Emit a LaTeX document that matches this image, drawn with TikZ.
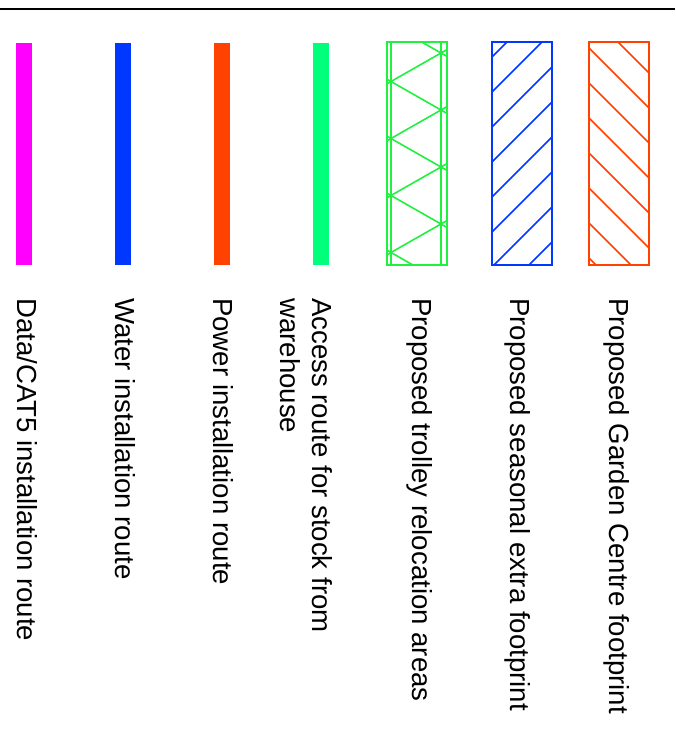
\documentclass[tikz,border=0pt]{standalone}
\usepackage{fontspec}
\setmainfont{Liberation Sans}
\definecolor{cat}{HTML}{FF00FF}
\definecolor{water}{HTML}{0038FF}
\definecolor{power}{HTML}{FF4200}
\definecolor{access}{HTML}{00FF7A}
\definecolor{trolley}{HTML}{22F040}
\begin{document}
\begin{tikzpicture}[x=1pt,y=-1pt,bar/.style={fill=#1,inner sep=0,minimum
    width=16pt,minimum height=222pt},hatchbox/.style={draw=#1,line width=1.6pt,
    inner sep=0,minimum width=60pt,minimum height=223pt},
  hatch/.style={draw=#1,line width=1.6pt},lbl/.style={rotate=-90,anchor=base
    west,inner sep=0,align=left,font=\fontsize{27.6}{32}\selectfont}]
  \useasboundingbox (0,0) rectangle (675,731);
  \coordinate (rule west) at (0,9);
  \coordinate (rule east) at (675,9);
  \draw[line width=1.3pt] (rule west) -- (rule east);
  % swatches
  \node(data)[bar=cat] at (24,154){};
  \node(water)[bar=water] at (123,154){};
  \node(power)[bar=power] at (222,154){};
  \node(access)[bar=access] at (321,154){};
  \node(trolley)[hatchbox=trolley] at (417,153.5){};
  \node(seasonal)[hatchbox=water] at (522,153.5){};
  \node(garden)[hatchbox=power] at (619,153.5){};
  \begin{scope}[hatch=trolley]
    \clip (trolley.south west) rectangle (trolley.north east);
    \draw (391,42) -- (391,265) (441,42) -- (441,265);
    \foreach \k in {-1,...,4}
      \draw (451,{47.3+57*\k}) -- (381,{87.2+57*\k});
    \foreach \k in {-2,...,3}
      \draw (381,{75.8+57*\k}) -- (451,{115.7+57*\k});
  \end{scope}
  \begin{scope}[hatch=water]
    \clip (seasonal.south west) rectangle (seasonal.north east);
    \foreach \k in {-1,...,7}
      \draw (487,{62+35*\k}) -- (557,{-8+35*\k});
  \end{scope}
  \begin{scope}[hatch=power]
    \clip (garden.south west) rectangle (garden.north east);
    \foreach \k in {0,...,7}
      \draw (584,{8+35*\k}) -- (654,{78+35*\k});
  \end{scope}
  % labels
  \node(data label)[lbl] at (17,298){Data/CAT5 installation route};
  \node(water label)[lbl] at (115,298){Water installation route};
  \node(power label)[lbl] at (213,298){Power installation route};
  \node(access label)[lbl] at (280,298){Access route for stock from\\warehouse};
  \node(trolley label)[lbl] at (412,298){Proposed trolley relocation areas};
  \node(seasonal label)[lbl] at (510,298){Proposed seasonal extra footprint};
  \node(garden label)[lbl] at (609,298){Proposed Garden Centre footprint};
\end{tikzpicture}
\end{document}
